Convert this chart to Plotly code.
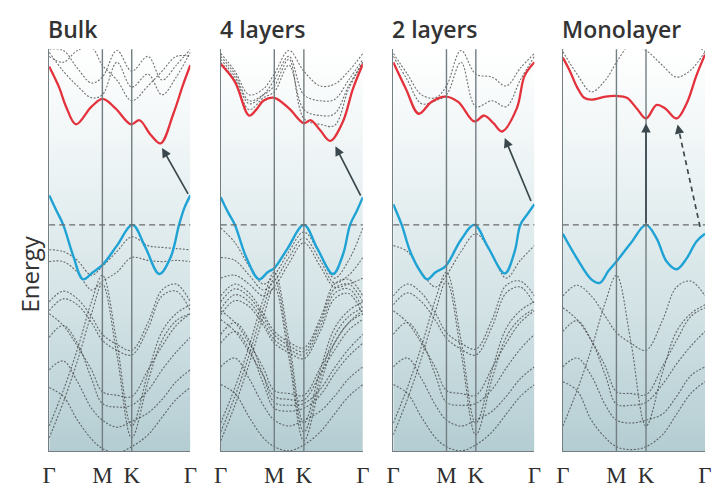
import plotly.graph_objects as go

# Brillouin-zone path Γ–M–K–Γ, normalised to the total path length
K_M, K_K = 0.377, 0.585
K_GRID = [0, 0.1, 0.2, 0.3, 0.377, 0.48, 0.585, 0.7, 0.8, 0.9, 1.0]
TICK_VALS = [0, K_M, K_K, 1]
TICK_TEXT = ["Γ", "M", "K", "Γ"]
PANEL_TITLES = ["Bulk", "4 layers", "2 layers", "Monolayer"]
E_RANGE = [-3.83, 2.97]

# ---- Bulk -------------------------------------------------------------
bulk_cb_k = [0, 0.07, 0.12, 0.19, 0.30, 0.38, 0.47, 0.58, 0.64, 0.72, 0.79, 0.88, 0.95, 1.0]
bulk_cb_e = [2.68, 2.33, 2.0, 1.70, 2.0, 2.13, 1.97, 1.70, 1.77, 1.52, 1.38, 1.88, 2.38, 2.70]
bulk_vb_k = [0, 0.05, 0.1, 0.17, 0.24, 0.31, 0.38, 0.48, 0.59, 0.68, 0.78, 0.86, 0.92, 0.96, 1.0]
bulk_vb_e = [0.5, 0.25, 0.0, -0.52, -0.92, -0.8, -0.67, -0.35, 0.0, -0.37, -0.83, -0.55, 0.0, 0.3, 0.5]
bulk_other = [
    [2.92, 2.6, 2.35, 2.15, 2.2, 2.75, 2.33, 2.55, 2.2, 2.5, 2.92],
    [2.97, 2.95, 2.65, 2.4, 2.5, 2.95, 2.6, 2.85, 2.45, 2.7, 2.97],
    [2.85, 2.75, 2.95, 3.0, 2.7, 2.45, 2.1, 2.35, 2.6, 2.85, 2.85],
    [-0.42, -0.45, -0.6, -0.85, -0.7, -0.45, -0.2, -0.35, -0.38, -0.4, -0.42],
    [-0.62, -0.62, -0.8, -1.1, -0.95, -0.8, -0.55, -0.6, -0.62, -0.6, -0.62],
    [-1.3, -1.12, -1.25, -1.55, -1.85, -2.02, -2.12, -1.65, -1.1, -1.0, -1.3],
    [-1.45, -1.25, -1.35, -1.65, -1.95, -2.12, -2.2, -1.75, -1.2, -1.12, -1.45],
    [-1.5, -1.7, -2.05, -2.45, -2.82, -2.88, -2.9, -2.45, -2.05, -1.7, -1.5],
    [-1.9, -1.7, -2.0, -2.6, -3.02, -3.08, -3.05, -2.8, -2.45, -2.15, -1.9],
    [-2.45, -2.3, -2.65, -3.1, -3.3, -3.42, -3.32, -3.18, -2.95, -2.65, -2.45],
    [-2.75, -2.9, -3.3, -3.62, -3.78, -3.85, -3.75, -3.55, -3.25, -2.95, -2.75],
    [-3.4, -2.8, -2.1, -1.3, -0.85, -2.0, -3.4, -2.5, -1.8, -1.5, -1.35],
    [-3.6, -3.0, -2.3, -1.5, -1.0, -2.2, -3.6, -2.65, -1.95, -1.62, -1.5],
]

# ---- 4 layers ---------------------------------------------------------
l4_cb_k = [0, 0.1, 0.2, 0.25, 0.3, 0.377, 0.48, 0.585, 0.634, 0.7, 0.77, 0.86, 0.93, 1.0]
l4_cb_e = [2.72, 2.42, 1.85, 1.95, 2.1, 2.15, 1.97, 1.72, 1.77, 1.6, 1.42, 1.75, 2.3, 2.72]
l4_vb_k = [0, 0.05, 0.1, 0.18, 0.27, 0.33, 0.377, 0.47, 0.585, 0.68, 0.79, 0.86, 0.91, 0.96, 1.0]
l4_vb_e = [0.47, 0.22, 0.0, -0.55, -0.92, -0.8, -0.73, -0.4, 0.0, -0.4, -0.83, -0.5, 0.0, 0.25, 0.47]
l4_other = [
    [2.9, 2.6, 2.2, 2.3, 2.55, 2.95, 2.6, 2.35, 2.38, 2.6, 2.9],
    [2.8, 2.5, 2.05, 2.2, 2.45, 2.85, 2.2, 2.1, 2.12, 2.45, 2.8],
    [2.75, 2.45, 1.95, 2.15, 2.25, 2.7, 1.95, 1.85, 1.88, 2.35, 2.75],
    [2.85, 2.55, 2.1, 2.2, 2.35, 2.8, 1.8, 1.7, 1.68, 2.3, 2.75],
    [-0.05, -0.3, -0.7, -1.0, -0.85, -0.45, -0.12, -0.5, -0.9, -0.6, -0.05],
    [-0.55, -0.6, -0.85, -1.1, -0.95, -0.55, -0.22, -0.6, -0.98, -0.85, -0.55],
    [-0.9, -0.85, -1.0, -1.2, -1.05, -0.65, -0.3, -0.7, -1.05, -1.0, -0.9],
    [-1.2, -1.0, -1.15, -1.5, -1.8, -1.98, -2.08, -1.58, -1.0, -0.92, -1.2],
    [-1.3, -1.08, -1.22, -1.56, -1.86, -2.04, -2.14, -1.64, -1.08, -1.0, -1.3],
    [-1.42, -1.18, -1.3, -1.64, -1.94, -2.1, -2.2, -1.72, -1.16, -1.08, -1.42],
    [-1.52, -1.28, -1.38, -1.7, -2.0, -2.16, -2.26, -1.8, -1.25, -1.16, -1.52],
    [-1.45, -1.65, -2.0, -2.42, -2.8, -2.85, -2.88, -2.42, -2.0, -1.65, -1.45],
    [-1.6, -1.8, -2.15, -2.55, -2.9, -2.95, -2.96, -2.52, -2.12, -1.78, -1.6],
    [-1.85, -1.65, -1.95, -2.55, -3.0, -3.05, -3.02, -2.78, -2.42, -2.1, -1.85],
    [-2.0, -1.8, -2.1, -2.68, -3.1, -3.15, -3.1, -2.88, -2.52, -2.22, -2.0],
    [-2.4, -2.25, -2.6, -3.05, -3.3, -3.4, -3.3, -3.15, -2.9, -2.6, -2.4],
    [-2.7, -2.85, -3.25, -3.6, -3.75, -3.82, -3.72, -3.5, -3.2, -2.9, -2.7],
    [-3.35, -2.75, -2.05, -1.25, -0.8, -1.95, -3.35, -2.45, -1.75, -1.45, -1.3],
    [-3.5, -2.9, -2.2, -1.4, -0.92, -2.1, -3.5, -2.58, -1.88, -1.55, -1.4],
    [-3.65, -3.05, -2.35, -1.55, -1.05, -2.25, -3.65, -2.7, -2.0, -1.66, -1.5],
]

# ---- 2 layers ---------------------------------------------------------
l2_cb_k = [0, 0.09, 0.18, 0.27, 0.37, 0.46, 0.575, 0.645, 0.71, 0.77, 0.875, 0.93, 1.0]
l2_cb_e = [2.75, 2.3, 1.88, 2.08, 2.17, 2.08, 1.75, 1.85, 1.72, 1.58, 1.97, 2.52, 2.75]
l2_vb_k = [0, 0.06, 0.12, 0.19, 0.24, 0.3, 0.37, 0.48, 0.575, 0.67, 0.79, 0.86, 0.9, 0.95, 1.0]
l2_vb_e = [0.35, 0.0, -0.45, -0.78, -0.92, -0.8, -0.7, -0.25, 0.0, -0.37, -0.82, -0.45, 0.0, 0.18, 0.35]
l2_other = [
    [2.9, 2.55, 2.2, 2.15, 2.35, 2.95, 2.55, 2.5, 2.35, 2.65, 2.9],
    [2.85, 2.45, 2.05, 2.1, 2.2, 2.75, 2.0, 2.1, 2.0, 2.45, 2.85],
    [-0.35, -0.45, -0.8, -1.05, -0.85, -0.45, -0.15, -0.5, -0.9, -0.6, -0.35],
    [-1.2, -1.0, -1.15, -1.5, -1.82, -2.0, -2.1, -1.6, -1.02, -0.95, -1.2],
    [-1.35, -1.15, -1.3, -1.62, -1.92, -2.1, -2.2, -1.72, -1.15, -1.05, -1.35],
    [-1.45, -1.65, -2.0, -2.42, -2.8, -2.85, -2.88, -2.42, -2.0, -1.65, -1.45],
    [-1.85, -1.65, -1.95, -2.55, -3.0, -3.05, -3.02, -2.78, -2.42, -2.1, -1.85],
    [-2.4, -2.25, -2.6, -3.05, -3.3, -3.4, -3.3, -3.15, -2.9, -2.6, -2.4],
    [-2.7, -2.85, -3.25, -3.6, -3.75, -3.82, -3.72, -3.5, -3.2, -2.9, -2.7],
    [-3.35, -2.75, -2.05, -1.25, -0.8, -1.95, -3.35, -2.45, -1.75, -1.45, -1.3],
    [-3.55, -2.95, -2.25, -1.45, -0.95, -2.15, -3.55, -2.6, -1.9, -1.58, -1.42],
]

# ---- Monolayer --------------------------------------------------------
l1_cb_k = [0, 0.05, 0.1, 0.15, 0.2, 0.3, 0.377, 0.45, 0.52, 0.585, 0.66, 0.72, 0.8, 0.87, 0.94, 1.0]
l1_cb_e = [2.83, 2.6, 2.33, 2.15, 2.12, 2.17, 2.18, 2.15, 1.97, 1.80, 2.03, 1.97, 1.80, 2.05, 2.53, 2.88]
l1_vb_k = [0, 0.1, 0.2, 0.26, 0.32, 0.377, 0.48, 0.585, 0.66, 0.73, 0.8, 0.87, 0.94, 1.0]
l1_vb_e = [-0.15, -0.57, -0.92, -0.98, -0.78, -0.62, -0.30, 0.0, -0.23, -0.62, -0.75, -0.57, -0.28, -0.15]
l1_other = [
    [2.93, 2.55, 2.25, 2.45, 2.75, 3.1, 3.3, 3.3, 3.2, 3.1, 2.93],
    [2.97, 3.2, 3.3, 3.3, 3.2, 3.05, 2.95, 2.7, 2.5, 2.62, 2.93],
    [-1.2, -1.02, -1.2, -1.55, -1.82, -2.0, -2.12, -1.62, -1.05, -0.95, -1.2],
    [-1.4, -1.6, -1.95, -2.4, -2.82, -2.85, -2.87, -2.4, -1.95, -1.55, -1.4],
    [-1.8, -1.62, -1.95, -2.55, -3.03, -3.05, -3.0, -2.7, -2.35, -2.05, -1.8],
    [-2.4, -2.25, -2.55, -3.05, -3.3, -3.35, -3.3, -3.2, -2.9, -2.55, -2.4],
    [-2.65, -2.8, -3.3, -3.6, -3.75, -3.8, -3.75, -3.55, -3.2, -2.85, -2.65],
    [-3.4, -2.8, -2.1, -1.3, -0.85, -2.0, -3.4, -2.5, -1.8, -1.5, -1.35],
]

panels = [
    (bulk_cb_k, bulk_cb_e, bulk_vb_k, bulk_vb_e, bulk_other),
    (l4_cb_k, l4_cb_e, l4_vb_k, l4_vb_e, l4_other),
    (l2_cb_k, l2_cb_e, l2_vb_k, l2_vb_e, l2_other),
    (l1_cb_k, l1_cb_e, l1_vb_k, l1_vb_e, l1_other),
]

# Band-gap transitions: (k_tail, E_tail, k_head, E_head)
indirect_gap = [
    (0.99, 0.5, 0.80, 1.30),
    (0.99, 0.47, 0.807, 1.33),
    (0.98, 0.38, 0.79, 1.47),
]
direct_gap_mono = (K_K, 0.0, K_K, 1.72)
indirect_gap_mono = (0.965, -0.03, 0.807, 1.70)

W, H = 712, 488
panel_px = [(43, 187), (218, 363), (394, 538), (567, 712)]
top_px, bottom_px = 50, 458

RED = "#e4323d"
BLUE = "#1fa2d4"
GRAY = "rgba(60,60,60,0.72)"
FRAME = "#737e82"
ARROW = "#3a484e"
TITLE_FONT = dict(family="Open Sans, sans-serif", size=23, color="#333333", weight=600)

fig = go.Figure()
layout = dict(
    width=W, height=H,
    margin=dict(l=0, r=0, t=0, b=0),
    paper_bgcolor="white", plot_bgcolor="rgba(0,0,0,0)",
    showlegend=False,
)
shapes, annotations = [], []

for i, (cbk, cbe, vbk, vbe, others) in enumerate(panels):
    sx = "" if i == 0 else str(i + 1)
    xref, yref = "x" + sx, "y" + sx
    x0, x1 = panel_px[i]
    layout["xaxis" + sx] = dict(
        domain=[x0 / W, min(x1 / W, 1.0)], range=[0, 1],
        tickvals=TICK_VALS, ticktext=TICK_TEXT, ticks="",
        tickfont=dict(family="Liberation Serif, Times New Roman, serif", size=23, color="#2e2e2e"),
        ticklabelstandoff=3,
        showgrid=False, zeroline=False, showline=True, linecolor=FRAME, linewidth=1.4,
        anchor=yref, fixedrange=True,
    )
    layout["yaxis" + sx] = dict(
        domain=[1 - bottom_px / H, 1 - top_px / H], range=E_RANGE,
        showticklabels=False, ticks="", showgrid=False, zeroline=False,
        showline=True, linecolor=FRAME, linewidth=1.4,
        anchor=xref, fixedrange=True,
    )

    # shaded panel background
    fig.add_trace(go.Scatter(
        x=[0, 1, 1, 0, 0], y=[E_RANGE[0], E_RANGE[0], E_RANGE[1], E_RANGE[1], E_RANGE[0]],
        fill="toself", mode="none", hoverinfo="skip",
        fillgradient=dict(type="vertical", colorscale=[
            [0.0, "#b4cdd2"], [0.35, "#d2e2e5"], [0.7, "#ecf3f4"], [1.0, "#ffffff"]]),
        xaxis=xref, yaxis=yref,
    ))

    for band in others:
        fig.add_trace(go.Scatter(
            x=K_GRID, y=band, mode="lines", hoverinfo="skip",
            line=dict(color=GRAY, width=1.1, dash="2px,1.6px", shape="spline", smoothing=1.0),
            xaxis=xref, yaxis=yref,
        ))
    fig.add_trace(go.Scatter(
        x=cbk, y=cbe, mode="lines",
        line=dict(color=RED, width=2.3, shape="spline", smoothing=1.0),
        xaxis=xref, yaxis=yref,
    ))
    fig.add_trace(go.Scatter(
        x=vbk, y=vbe, mode="lines",
        line=dict(color=BLUE, width=2.4, shape="spline", smoothing=1.0),
        xaxis=xref, yaxis=yref,
    ))

    # high-symmetry points M and K
    for kv in (K_M, K_K):
        shapes.append(dict(type="line", xref=xref, yref=yref + " domain", x0=kv, x1=kv, y0=0, y1=1,
                           line=dict(color=FRAME, width=1.4), layer="above"))
    # valence-band maximum reference
    shapes.append(dict(type="line", xref=xref + " domain", yref=yref, x0=0, x1=1, y0=0, y1=0,
                       line=dict(color="#6a6a6a", width=1.3, dash="6px,4px"), layer="above"))

    annotations.append(dict(
        text=PANEL_TITLES[i], xref="paper", yref="paper", x=(x0 - 3) / W, y=1 - 29 / H,
        xanchor="left", yanchor="middle", showarrow=False, font=TITLE_FONT,
    ))

    if i < 3:
        kt, et, kh, eh = indirect_gap[i]
        annotations.append(dict(
            x=kh, y=eh, ax=kt, ay=et, xref=xref, yref=yref, axref=xref, ayref=yref,
            text="", showarrow=True, arrowhead=2, arrowsize=1.1, arrowwidth=1.7, arrowcolor=ARROW,
        ))
    else:
        kt, et, kh, eh = direct_gap_mono
        annotations.append(dict(
            x=kh, y=eh, ax=kt, ay=et, xref=xref, yref=yref, axref=xref, ayref=yref,
            text="", showarrow=True, arrowhead=2, arrowsize=1.1, arrowwidth=1.7, arrowcolor=ARROW,
        ))
        kt, et, kh, eh = indirect_gap_mono
        # dashed shaft, then a short arrow carrying the head
        kb = kh + (kt - kh) * 0.095
        eb = eh + (et - eh) * 0.095
        fig.add_trace(go.Scatter(
            x=[kt, kb], y=[et, eb], mode="lines", hoverinfo="skip",
            line=dict(color=ARROW, width=1.7, dash="5px,4px"),
            xaxis=xref, yaxis=yref,
        ))
        annotations.append(dict(
            x=kh, y=eh, ax=kb, ay=eb, xref=xref, yref=yref, axref=xref, ayref=yref,
            text="", showarrow=True, arrowhead=2, arrowsize=1.1, arrowwidth=1.7, arrowcolor=ARROW,
        ))

annotations.append(dict(
    text="Energy", xref="paper", yref="paper", x=22 / W, y=1 - 278 / H,
    xanchor="center", yanchor="middle", textangle=-90, showarrow=False,
    font=dict(family="Open Sans, sans-serif", size=24, color="#333333"),
))

layout["shapes"] = shapes
layout["annotations"] = annotations
fig.update_layout(**layout)
fig.write_html("out.html")
